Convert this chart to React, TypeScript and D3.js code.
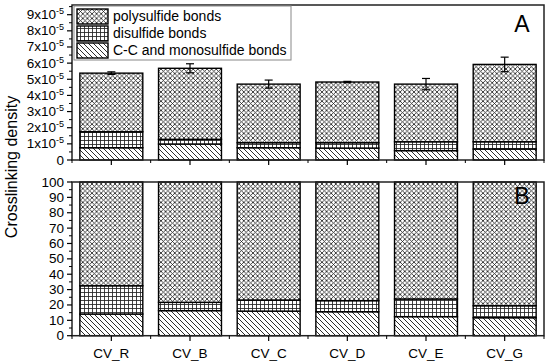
import React from "react";
import * as d3 from "d3";

const categories = ["CV_R", "CV_B", "CV_C", "CV_D", "CV_E", "CV_G"];
// Panel A values (x 1e-5)
const ccAbs = [0.76, 0.99, 0.76, 0.74, 0.58, 0.68];
const diAbs = [0.99, 0.29, 0.31, 0.33, 0.55, 0.45];
const polyAbs = [3.63, 4.4, 3.63, 3.76, 3.57, 4.79];
const errAbs = [0.08, 0.28, 0.25, 0.04, 0.35, 0.45];
const topTicks = [0, 1, 2, 3, 4, 5, 6, 7, 8, 9];
// Panel B values (%)
const ccPct = [14.1, 16.3, 16.0, 15.6, 12.4, 11.7];
const diPct = [18.4, 5.4, 7.2, 7.2, 11.5, 7.8];
const polyPct = [67.5, 78.3, 76.8, 77.2, 76.1, 80.5];
const botTicks = [0, 10, 20, 30, 40, 50, 60, 70, 80, 90, 100];
const legendLabels = ["polysulfide bonds", "disulfide bonds", "C-C and monosulfide bonds"];
const yTitle = "Crosslinking density";

const FONT = "'Liberation Sans', Arial, sans-serif";
const L = 72, R = 544;

export default function App() {
  const x = d3.scaleBand<string>().domain(categories).range([L, R]).paddingInner(0.2).paddingOuter(0.1);
  const yA = d3.scaleLinear().domain([0, 9.6]).range([160, 5]);
  const yB = d3.scaleLinear().domain([0, 100]).range([335.7, 182]);
  const step = x.step();
  const bw = x.bandwidth();
  const fills = ["url(#pCross)", "url(#pGrid)", "url(#pDiag)"];

  const stackRects = (vals: number[][], y: d3.ScaleLinear<number, number>, keyp: string) =>
    categories.map((c, i) => {
      let base = 0;
      const segs = [vals[2][i], vals[1][i], vals[0][i]]; // cc, di, poly
      const fl = [fills[2], fills[1], fills[0]];
      return segs.map((v, k) => {
        const y0 = y(base), y1 = y(base + v);
        base += v;
        return (
          <rect key={keyp + c + k} x={x(c)} y={y1} width={bw} height={y0 - y1}
            fill={fl[k]} stroke="#000" strokeWidth={1.4} />
        );
      });
    });

  const minorX = d3.range(0, categories.length + 1).map((i) => L + i * step);

  return (
    <svg width={550} height={364} style={{ display: "block", position: "absolute", left: 0, top: 0 }} fontFamily={FONT}>
      <defs>
        <pattern id="pCross" patternUnits="userSpaceOnUse" width={4.6} height={4.6}>
          <rect width={4.6} height={4.6} fill="#fff" />
          <path d="M-1,-1 L5.6,5.6 M5.6,-1 L-1,5.6" stroke="#222" strokeWidth={0.85} />
        </pattern>
        <pattern id="pGrid" patternUnits="userSpaceOnUse" width={4} height={4}>
          <rect width={4} height={4} fill="#fff" />
          <path d="M0,0.5 H4 M0.5,0 V4" stroke="#222" strokeWidth={0.85} />
        </pattern>
        <pattern id="pDiag" patternUnits="userSpaceOnUse" width={5} height={5}>
          <rect width={5} height={5} fill="#fff" />
          <path d="M-1,-1 L6,6 M-1,4 L1,6 M4,-1 L6,1" stroke="#222" strokeWidth={0.95} />
        </pattern>
      </defs>
      <rect width={550} height={364} fill="#fff" />

      {/* Panel A */}
      {stackRects([polyAbs, diAbs, ccAbs], yA, "a")}
      {categories.map((c, i) => {
        const tot = ccAbs[i] + diAbs[i] + polyAbs[i];
        const cx = (x(c) as number) + bw / 2;
        const t = yA(tot + errAbs[i]), b = yA(tot - errAbs[i]);
        return (
          <g key={"e" + c} stroke="#000" strokeWidth={1.2}>
            <line x1={cx} x2={cx} y1={t} y2={b} />
            <line x1={cx - 4} x2={cx + 4} y1={t} y2={t} />
            <line x1={cx - 4} x2={cx + 4} y1={b} y2={b} />
          </g>
        );
      })}
      <rect x={L} y={yA(9.6)} width={R - L} height={yA(0) - yA(9.6)} fill="none" stroke="#222" strokeWidth={1.5} />
      {topTicks.map((t) => (
        <g key={"ta" + t}>
          <line x1={L - 5} x2={L} y1={yA(t)} y2={yA(t)} stroke="#000" strokeWidth={1.2} />
          <line x1={L - 3} x2={L} y1={yA(t + 0.5)} y2={yA(t + 0.5)} stroke="#000" strokeWidth={1} />
          <text x={L - 8} y={yA(t) + 4.5} textAnchor="end" fontSize={13.5}>
            {t === 0 ? "0" : (
              <>
                <tspan>{t}x10</tspan>
                <tspan dy={-5} fontSize={9}>-5</tspan>
              </>
            )}
          </text>
        </g>
      ))}
      {categories.map((c) => (
        <line key={"xa" + c} x1={(x(c) as number) + bw / 2} x2={(x(c) as number) + bw / 2} y1={160} y2={165} stroke="#000" strokeWidth={1.2} />
      ))}
      {minorX.map((m, i) => (
        <line key={"xam" + i} x1={m} x2={m} y1={160} y2={163} stroke="#000" strokeWidth={1} />
      ))}
      <text x={522} y={31.5} textAnchor="middle" fontSize={23}>A</text>

      {/* Legend */}
      <rect x={74} y={6} width={217} height={54} fill="#fff" stroke="#888" strokeWidth={1} />
      {legendLabels.map((lab, i) => (
        <g key={"lg" + i}>
          <rect x={77} y={9 + i * 17} width={31} height={15} fill={fills[i]} stroke="#000" strokeWidth={1.4} />
          <text x={113} y={20.5 + i * 17} fontSize={14}>{lab}</text>
        </g>
      ))}

      {/* Panel B */}
      {stackRects([polyPct, diPct, ccPct], yB, "b")}
      <rect x={L} y={yB(100)} width={R - L} height={yB(0) - yB(100)} fill="none" stroke="#222" strokeWidth={1.5} />
      {botTicks.map((t) => (
        <g key={"tb" + t}>
          <line x1={L - 5} x2={L} y1={yB(t)} y2={yB(t)} stroke="#000" strokeWidth={1.2} />
          {t < 100 && <line x1={L - 3} x2={L} y1={yB(t + 5)} y2={yB(t + 5)} stroke="#000" strokeWidth={1} />}
          <text x={L - 8} y={yB(t) + 4.5} textAnchor="end" fontSize={13.5}>{t}</text>
        </g>
      ))}
      {categories.map((c) => (
        <g key={"xb" + c}>
          <line x1={(x(c) as number) + bw / 2} x2={(x(c) as number) + bw / 2} y1={335.7} y2={341} stroke="#000" strokeWidth={1.2} />
          <text x={(x(c) as number) + bw / 2} y={358} textAnchor="middle" fontSize={13.5}>{c}</text>
        </g>
      ))}
      {minorX.map((m, i) => (
        <line key={"xbm" + i} x1={m} x2={m} y1={335.7} y2={339} stroke="#000" strokeWidth={1} />
      ))}
      <text x={522} y={204} textAnchor="middle" fontSize={23}>B</text>

      <text transform="translate(17,167) rotate(-90)" textAnchor="middle" fontSize={16}>{yTitle}</text>
    </svg>
  );
}
